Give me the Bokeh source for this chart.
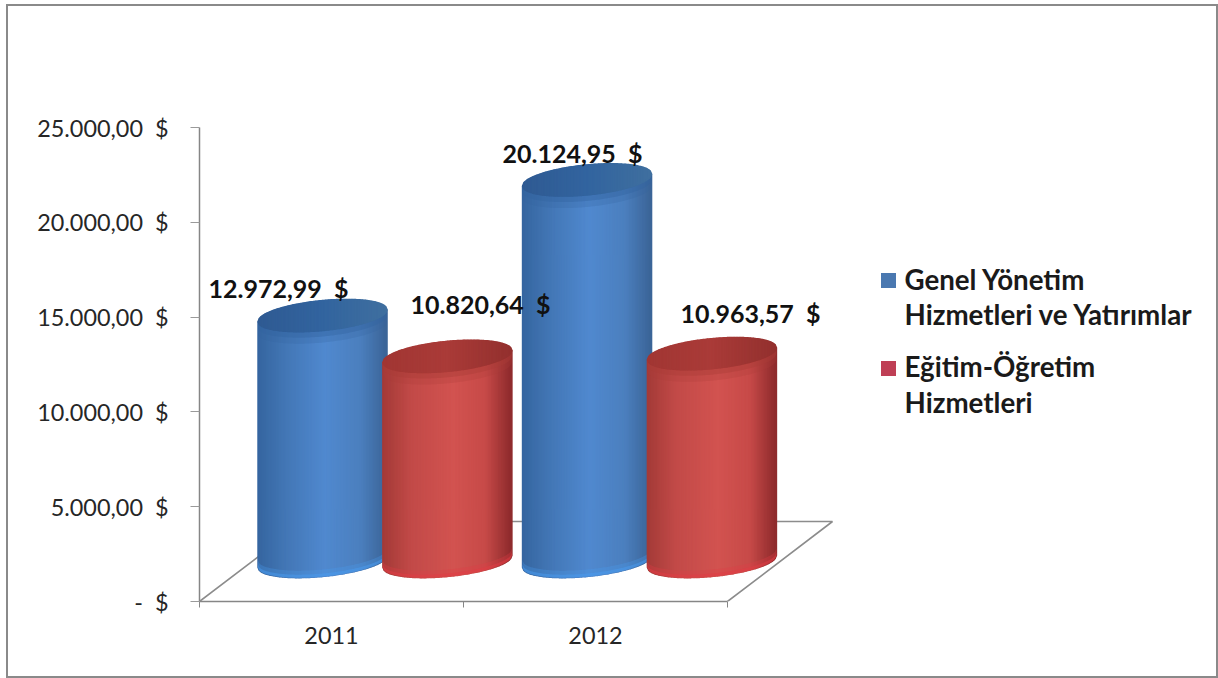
from bokeh.plotting import figure
from bokeh.embed import file_html
from bokeh.resources import INLINE
from bokeh.core.properties import value
from bokeh.models import FixedTicker, Range1d
import math

# data
categories = ["2011", "2012"]
genel = [12972.99, 20124.95]
egitim = [10820.64, 10963.57]
genel_labels = ["12.972,99\u00a0 $", "20.124,95\u00a0 $"]
egitim_labels = ["10.820,64\u00a0 $", "10.963,57\u00a0 $"]
y_ticks = [0, 5000, 10000, 15000, 20000, 25000]
y_tick_labels = ["-\u00a0 $", "5.000,00\u00a0 $", "10.000,00\u00a0 $", "15.000,00\u00a0 $", "20.000,00\u00a0 $", "25.000,00\u00a0 $"]

# layout: page coordinates of the figure box
OX, OY = 8, 6
W, H = 1208, 670
AX_LEFT, AX_BOTTOM = 199, 601
PX_PER_CAT = 264
UNIT = 5000 / 94.8  # value units per pixel


def xu(px):
    return (px - AX_LEFT) / PX_PER_CAT


def yu(py):
    return (AX_BOTTOM - py) * UNIT


p = figure(width=W, height=H, output_backend="svg", toolbar_location=None,
           x_range=Range1d(0, xu(OX + W)), y_range=Range1d(0, yu(OY)),
           min_border_left=AX_LEFT - OX, min_border_right=0, min_border_top=0,
           min_border_bottom=OY + H - AX_BOTTOM, margin=0,
           background_fill_color="white", border_fill_color="white", outline_line_color=None,
           styles={"position": "absolute", "left": f"{OX}px", "top": f"{OY}px",
                   "outline": "2px solid #8a8a8a"})
p.grid.visible = False

FONT = "Lato"
# y axis
ya = p.yaxis[0]
ya.bounds = (0, 25000)
ya.ticker = FixedTicker(ticks=y_ticks)
ya.major_label_overrides = dict(zip(y_ticks, y_tick_labels))
ya.major_label_text_font = FONT
ya.major_label_text_font_size = "23.4px"
ya.major_label_text_color = "#262626"
ya.major_label_standoff = 22
ya.axis_line_color = "#868686"
ya.axis_line_width = 1.5
ya.major_tick_line_color = "#9a9a9a"
ya.major_tick_out = 9
ya.major_tick_in = 0
ya.minor_tick_line_color = None
# x axis
xa = p.xaxis[0]
xa.bounds = (0, 2)
xa.ticker = FixedTicker(ticks=[0.5, 1.5], minor_ticks=[0, 1, 2])
xa.major_label_overrides = {0.5: categories[0], 1.5: categories[1]}
xa.major_label_text_font = FONT
xa.major_label_text_font_size = "23.4px"
xa.major_label_text_color = "#262626"
xa.major_label_standoff = 19
xa.axis_line_color = "#868686"
xa.axis_line_width = 1.5
xa.major_tick_line_color = None
xa.minor_tick_line_color = "#868686"
xa.minor_tick_out = 6
xa.minor_tick_in = 0

# floor edges
DEPTH_X = 105 / PX_PER_CAT
DEPTH_Y = 80 * UNIT
p.line([0, DEPTH_X, 2 + DEPTH_X, 2], [0, DEPTH_Y, DEPTH_Y, 0], line_color="#8c8c8c", line_width=1.6)

# cylinders
BLUE = dict(body=[(-1, "#35659f"), (-0.55, "#4377b6"), (0.05, "#5089cf"), (0.6, "#4b7fbe"), (1, "#3b6497")],
            top=[(-1, "#2f5a92"), (0, "#32649f"), (1, "#3f6f9f")], rim="#4a9bf0")
RED = dict(body=[(-1, "#a33a37"), (-0.55, "#c24a48"), (0.1, "#d25350"), (0.6, "#c74a48"), (1, "#8d2a2c")],
           top=[(-1, "#a13633"), (0, "#aa3b38"), (1, "#93302e")], rim="#e23c44")
GROUP_POS = [0.7025, 1.7045]
OFFSET = 0.2365
HALF_W = 0.2443
BASE = 40 * UNIT
MINOR = 15 * UNIT
TILT = 6 * UNIT
N = 90


def hex2rgb(c):
    return tuple(int(c[i:i + 2], 16) for i in (1, 3, 5))


def shade(stops, u):
    for (u0, c0), (u1, c1) in zip(stops, stops[1:]):
        if u <= u1:
            t = (u - u0) / (u1 - u0)
            a, b = hex2rgb(c0), hex2rgb(c1)
            return "#%02x%02x%02x" % tuple(round(a[i] + (b[i] - a[i]) * t) for i in range(3))
    return stops[-1][1]


def arc(u, centre, sign):
    return centre + sign * MINOR * math.sqrt(max(0.0, 1 - u * u)) + TILT * u


def crescent(cx, centre, thick, colour, alpha):
    us = [-1 + 2 * i / N for i in range(N + 1)]
    xs = [cx + HALF_W * u for u in us] + [cx + HALF_W * u for u in reversed(us)]
    ys = [arc(u, centre, -1) for u in us] + [arc(u, centre + thick, -1) for u in reversed(us)]
    p.patch(xs, ys, fill_color=colour, fill_alpha=alpha, line_color=None)


def cylinder(cx, val, col):
    top_c = BASE + val
    body_xs, body_ys, body_c = [], [], []
    top_xs, top_ys, top_col = [], [], []
    for i in range(N):
        u0, u1 = -1 + 2 * i / N, -1 + 2 * (i + 1) / N
        um = (u0 + u1) / 2
        xq = [cx + HALF_W * u0, cx + HALF_W * u1, cx + HALF_W * u1, cx + HALF_W * u0]
        body_xs.append(xq)
        body_ys.append([arc(u0, BASE, -1), arc(u1, BASE, -1), arc(u1, top_c, -1), arc(u0, top_c, -1)])
        body_c.append(shade(col["body"], um))
        top_xs.append(xq)
        top_ys.append([arc(u0, top_c, -1), arc(u1, top_c, -1), arc(u1, top_c, 1), arc(u0, top_c, 1)])
        top_col.append(shade(col["top"], um))
    p.patches(body_xs, body_ys, fill_color=body_c, line_color=body_c, line_width=1.5)
    crescent(cx, BASE, 7 * UNIT, col["rim"], 0.3)
    crescent(cx, BASE, 3 * UNIT, col["rim"], 0.5)
    crescent(cx, top_c - 12 * UNIT, 12 * UNIT, col["top"][1][1], 0.25)
    crescent(cx, top_c - 6 * UNIT, 6 * UNIT, col["top"][1][1], 0.4)
    p.patches(top_xs, top_ys, fill_color=top_col, line_color=top_col, line_width=1.5)


for g in range(2):
    cylinder(GROUP_POS[g] - OFFSET, genel[g], BLUE)
    cylinder(GROUP_POS[g] + OFFSET, egitim[g], RED)

# data labels
label_px = [(278, 287, genel_labels[0]), (480, 303, egitim_labels[0]),
            (572, 152, genel_labels[1]), (750, 312, egitim_labels[1])]
p.text([xu(a[0]) for a in label_px], [yu(a[1]) for a in label_px], text=[a[2] for a in label_px],
       text_font=value(FONT), text_font_style="bold", text_font_size="25px", text_color="#111111",
       text_align="center", text_baseline="middle")

# legend
legend_lines = [(904, 279, "Genel Yönetim"), (904, 314, "Hizmetleri ve Yatırımlar"),
                (904, 366, "Eğitim-Öğretim"), (904, 402, "Hizmetleri")]
p.text([xu(a[0]) for a in legend_lines], [yu(a[1]) for a in legend_lines], text=[a[2] for a in legend_lines],
       text_font=value(FONT), text_font_style="bold", text_font_size="27.7px", text_color="#1a1a1a",
       text_align="left", text_baseline="middle")
p.scatter([xu(888), xu(888)], [yu(280), yu(368)], marker="square", size=15,
          fill_color=["#4a78b0", "#bf3f55"], line_color=None)

open("out.html", "w").write(file_html(p, INLINE))
